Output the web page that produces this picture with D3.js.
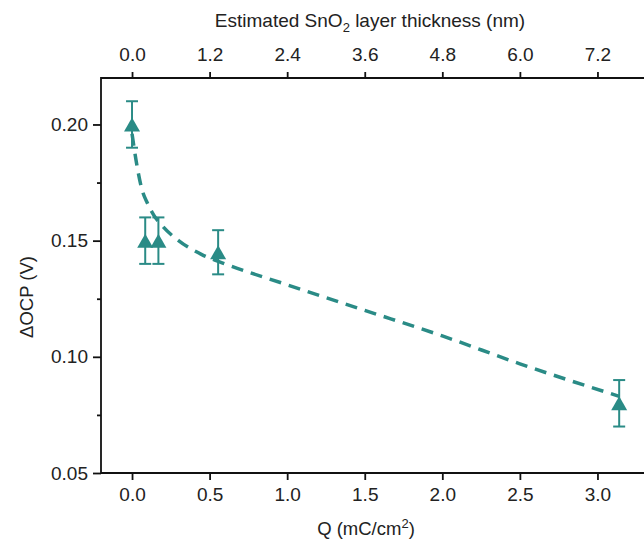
<!DOCTYPE html>
<html>
<head>
<meta charset="utf-8">
<script src="https://cdn.jsdelivr.net/npm/d3@7"></script>
<style>
  html, body { margin: 0; padding: 0; background: #fff; }
  svg text { font-family: "Liberation Sans", Arial, sans-serif; }
</style>
</head>
<body>
<svg id="chart" width="644" height="541"></svg>
<script>
// ---- data ----
const qValues   = [0, 0.085, 0.17, 0.555, 3.14];          // Q (mC/cm2)
const ocpValues = [0.200, 0.150, 0.150, 0.145, 0.080];    // ΔOCP (V)
const ocpErrors = [0.010, 0.010, 0.010, 0.0095, 0.010];

// dashed guide curve
const curveQ   = [0, 0.03, 0.06, 0.10, 0.14, 0.20, 0.30, 0.45, 0.60, 1.0, 1.5, 2.0, 2.5, 3.14];
const curveOCP = [0.196, 0.183, 0.173, 0.166, 0.161, 0.156, 0.150, 0.144, 0.140, 0.131, 0.120, 0.109, 0.097, 0.083];

const bottomTicks = [0.0, 0.5, 1.0, 1.5, 2.0, 2.5, 3.0];
const topTicks    = [0.0, 1.2, 2.4, 3.6, 4.8, 6.0, 7.2];
const yMajorTicks = [0.05, 0.10, 0.15, 0.20];
const yMinorTicks = [0.075, 0.125, 0.175];

const color = "#2a8b86";

(function () {
// ---- layout ----
const svg = d3.select("#chart");
const mLeft = 101, mRight = 644, mTop = 78, mBottom = 473;

const x = d3.scaleLinear().domain([-0.2, 3.3]).range([mLeft, mRight]);
const xTop = d3.scaleLinear().domain([-0.2 * 2.4, 3.3 * 2.4]).range([mLeft, mRight]);
const y = d3.scaleLinear().domain([0.05, 0.22]).range([mBottom, mTop]);

const fontSize = 19;

// bottom axis
const gB = svg.append("g").attr("transform", `translate(0,${mBottom})`)
  .call(d3.axisBottom(x).tickValues(bottomTicks).tickFormat(d3.format(".1f"))
        .tickSize(7).tickPadding(8).tickSizeOuter(0));
// top axis
const gT = svg.append("g").attr("transform", `translate(0,${mTop})`)
  .call(d3.axisTop(xTop).tickValues(topTicks).tickFormat(d3.format(".1f"))
        .tickSize(6).tickPadding(11).tickSizeOuter(0));
// left axis
const gL = svg.append("g").attr("transform", `translate(${mLeft},0)`)
  .call(d3.axisLeft(y).tickValues(yMajorTicks).tickFormat(d3.format(".2f"))
        .tickSize(8).tickPadding(5).tickSizeOuter(0));
const gLm = svg.append("g").attr("transform", `translate(${mLeft},0)`)
  .call(d3.axisLeft(y).tickValues(yMinorTicks).tickFormat("").tickSize(4).tickSizeOuter(0));

[gB, gT, gL, gLm].forEach(g => {
  g.select(".domain").remove();
  g.selectAll(".tick line").attr("stroke", "#111").attr("stroke-width", 1.8);
  g.selectAll(".tick text").attr("fill", "#222").style("font-size", fontSize + "px")
    .style("font-family", '"Liberation Sans", Arial, sans-serif');
});

// frame (left, top, bottom)
svg.append("path")
  .attr("d", `M${mRight + 2},${mTop}H${mLeft}V${mBottom}H${mRight + 2}`)
  .attr("fill", "none").attr("stroke", "#111").attr("stroke-width", 1.8);

// dashed curve
const curveData = curveQ.map((q, i) => [q, curveOCP[i]]);
svg.append("path")
  .datum(curveData)
  .attr("d", d3.line().x(d => x(d[0])).y(d => y(d[1])).curve(d3.curveMonotoneX))
  .attr("fill", "none").attr("stroke", color).attr("stroke-width", 3.5)
  .attr("stroke-dasharray", "12,8");

// error bars
const pts = qValues.map((q, i) => ({ q, v: ocpValues[i], e: ocpErrors[i] }));
const eb = svg.append("g").attr("stroke", color).attr("stroke-width", 2).attr("fill", "none");
pts.forEach(p => {
  const cx = x(p.q), y1 = y(p.v + p.e), y2 = y(p.v - p.e);
  eb.append("line").attr("x1", cx).attr("x2", cx).attr("y1", y1).attr("y2", y2);
  eb.append("line").attr("x1", cx - 6).attr("x2", cx + 6).attr("y1", y1).attr("y2", y1);
  eb.append("line").attr("x1", cx - 6).attr("x2", cx + 6).attr("y1", y2).attr("y2", y2);
});

// triangle markers
const tw = 16, th = 14;
svg.append("g").selectAll("path").data(pts).join("path")
  .attr("d", d => {
    const cx = x(d.q), cy = y(d.v);
    return `M${cx},${cy - th / 2}L${cx + tw / 2},${cy + th / 2}L${cx - tw / 2},${cy + th / 2}Z`;
  })
  .attr("fill", color);

// axis titles
svg.append("text")
  .attr("x", 370).attr("y", 27).attr("text-anchor", "middle")
  .style("font-size", fontSize + "px").attr("fill", "#222")
  .call(t => {
    t.append("tspan").text("Estimated SnO");
    t.append("tspan").text("2").attr("dy", 5).style("font-size", "13px");
    t.append("tspan").text(" layer thickness (nm)").attr("dy", -5);
  });

svg.append("text")
  .attr("x", 366).attr("y", 535).attr("text-anchor", "middle")
  .style("font-size", "18.5px").attr("fill", "#222")
  .call(t => {
    t.append("tspan").text("Q (mC/cm");
    t.append("tspan").text("2").attr("dy", -7).style("font-size", "13px");
    t.append("tspan").text(")").attr("dy", 7);
  });

svg.append("text")
  .attr("transform", "translate(33,297) rotate(-90)")
  .attr("text-anchor", "middle")
  .style("font-size", "18.5px").attr("fill", "#222")
  .text("ΔOCP (V)");
})();
</script>
</body>
</html>
